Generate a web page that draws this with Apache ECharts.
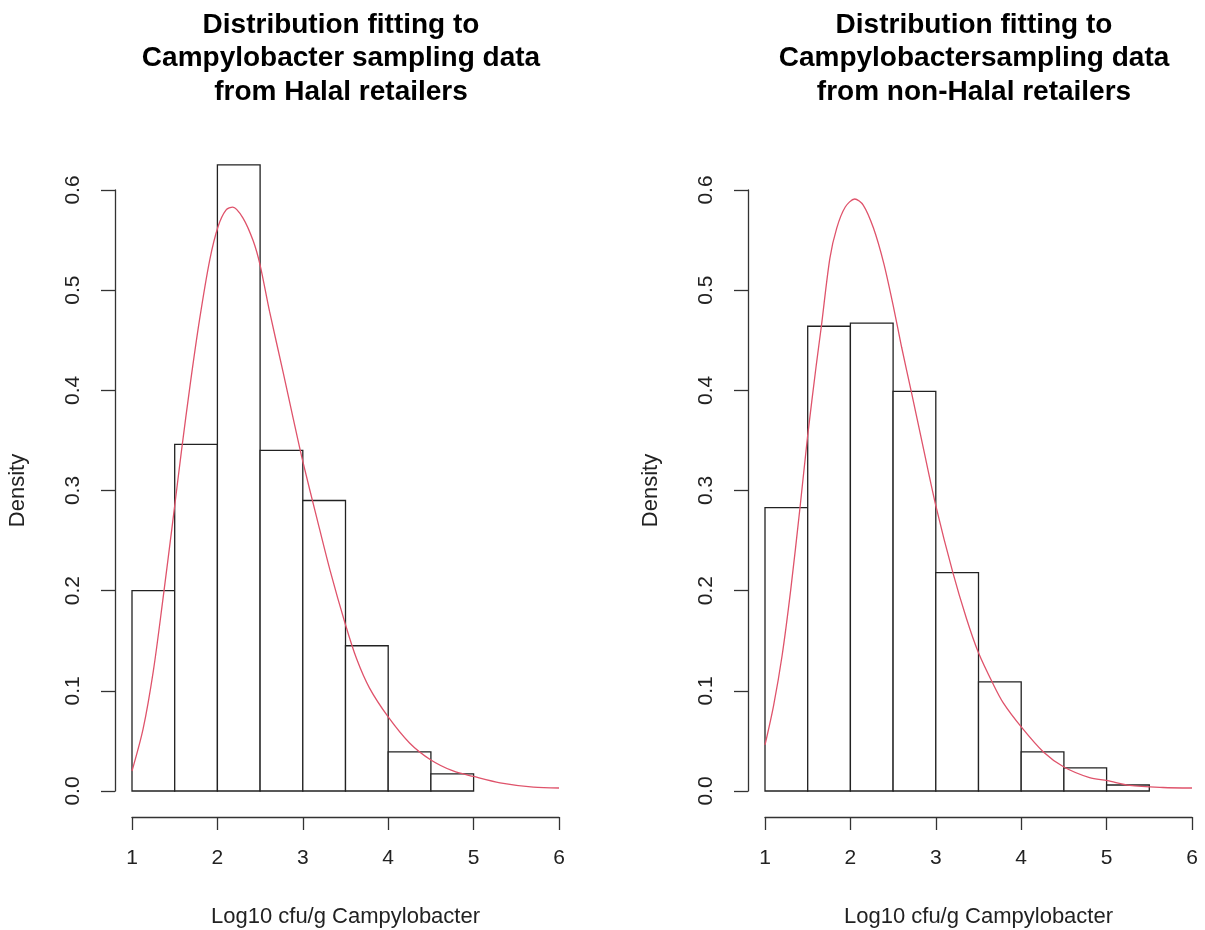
<!doctype html>
<html>
<head>
<meta charset="utf-8">
<title>Distribution fitting</title>
<style>
  html, body { margin: 0; padding: 0; background: #fff; }
  #main { width: 1205px; height: 930px; }
</style>
</head>
<body>
<div id="main"></div>
<script src="https://cdn.jsdelivr.net/npm/echarts@6/dist/echarts.min.js"></script>
<script>
// histogram breaks and densities (bin width 0.5)
var halalBreaks = [1, 1.5, 2, 2.5, 3, 3.5, 4, 4.5, 5];
var halalDensity = [0.200, 0.346, 0.625, 0.340, 0.290, 0.145, 0.039, 0.017];
var nonHalalBreaks = [1, 1.5, 2, 2.5, 3, 3.5, 4, 4.5, 5, 5.5];
var nonHalalDensity = [0.283, 0.464, 0.467, 0.399, 0.218, 0.109, 0.039, 0.023, 0.006];

// fitted density curves
var halalCurveX = [1.00, 1.13, 1.25, 1.36, 1.48, 1.58, 1.68, 1.79, 1.91, 2.01, 2.10, 2.18, 2.30, 2.42, 2.50, 2.61, 2.77, 2.89, 3.00, 3.16, 3.32, 3.50, 3.63, 3.78, 4.00, 4.25, 4.50, 4.76, 5.00, 5.31, 5.70, 6.00];
var halalCurveY = [0.020, 0.062, 0.120, 0.190, 0.271, 0.340, 0.405, 0.470, 0.530, 0.564, 0.580, 0.583, 0.572, 0.549, 0.525, 0.479, 0.418, 0.371, 0.329, 0.274, 0.220, 0.166, 0.132, 0.103, 0.074, 0.048, 0.031, 0.020, 0.0145, 0.0082, 0.0039, 0.003];
var nonHalalCurveX = [1.00, 1.10, 1.20, 1.30, 1.41, 1.50, 1.60, 1.66, 1.76, 1.84, 1.94, 2.05, 2.15, 2.27, 2.39, 2.50, 2.60, 2.72, 2.85, 3.00, 3.20, 3.36, 3.50, 3.67, 3.79, 4.01, 4.26, 4.50, 4.80, 5.01, 5.27, 5.66, 6.00];
var nonHalalCurveY = [0.046, 0.085, 0.135, 0.200, 0.283, 0.355, 0.425, 0.464, 0.532, 0.562, 0.583, 0.591, 0.585, 0.562, 0.527, 0.485, 0.443, 0.396, 0.344, 0.285, 0.218, 0.172, 0.138, 0.107, 0.088, 0.063, 0.039, 0.024, 0.0134, 0.0104, 0.0056, 0.0035, 0.003];

var yTicks = ['0.0', '0.1', '0.2', '0.3', '0.4', '0.5', '0.6'];

var halalTitle = ['Distribution fitting to', 'Campylobacter sampling data', 'from Halal retailers'];
var nonHalalTitle = ['Distribution fitting to', 'Campylobactersampling data', 'from non-Halal retailers'];

var font = '"Liberation Sans", Arial, sans-serif';
var axisColor = '#333';

function bins(breaks, dens) {
    var out = [];
    for (var i = 0; i < dens.length; i++) {
        out.push([breaks[i], breaks[i + 1], dens[i]]);
    }
    return out;
}

function pairs(xs, ys) {
    var out = [];
    for (var i = 0; i < xs.length; i++) out.push([xs[i], ys[i]]);
    return out;
}

function renderBin(params, api) {
    var p0 = api.coord([api.value(0), 0]);
    var p1 = api.coord([api.value(1), api.value(2)]);
    return {
        type: 'rect',
        shape: { x: p0[0], y: p1[1], width: p1[0] - p0[0], height: p0[1] - p1[1] },
        style: { fill: '#fff', stroke: '#222', lineWidth: 1.3 }
    };
}

function xAxisFor(idx) {
    return {
        gridIndex: idx, type: 'value', min: 1, max: 6, interval: 1,
        offset: 26,
        name: 'Log10 cfu/g Campylobacter', nameLocation: 'middle', nameGap: 89,
        nameTextStyle: { fontFamily: font, fontSize: 22, color: '#222' },
        axisLine: { show: true, onZero: false, lineStyle: { color: axisColor, width: 1.3 } },
        axisTick: { show: true, length: 13, lineStyle: { color: axisColor, width: 1.3 } },
        axisLabel: { margin: 31, fontFamily: font, fontSize: 21, color: '#222' },
        splitLine: { show: false }
    };
}

function yAxisFor(idx) {
    return {
        gridIndex: idx, type: 'value', min: 0, max: 0.6, interval: 0.1,
        offset: 17,
        name: 'Density', nameLocation: 'middle', nameGap: 86, nameRotate: 90,
        nameTextStyle: { fontFamily: font, fontSize: 22, color: '#222' },
        axisLine: { show: true, onZero: false, lineStyle: { color: axisColor, width: 1.3 } },
        axisTick: { show: true, length: 14, lineStyle: { color: axisColor, width: 1.3 } },
        axisLabel: {
            rotate: 90, margin: 31, fontFamily: font, fontSize: 21, color: '#222',
            formatter: function (v) { return yTicks[Math.round(v * 10)]; }
        },
        splitLine: { show: false }
    };
}

function titleTexts(lines, cx) {
    var out = [];
    for (var i = 0; i < lines.length; i++) {
        out.push({
            type: 'text', x: cx, y: 25 + i * 33.5,
            style: {
                text: lines[i], fill: '#000', font: 'bold 28px ' + font,
                textAlign: 'center', textVerticalAlign: 'middle'
            }
        });
    }
    return out;
}

var myChart = echarts.init(document.getElementById('main'), null, { renderer: 'canvas' });

var option = {
    backgroundColor: '#fff',
    animation: false,
    graphic: titleTexts(halalTitle, 341).concat(titleTexts(nonHalalTitle, 974)),
    grid: [
        { left: 132, top: 190, width: 427, height: 601, containLabel: false, outerBoundsMode: 'none' },
        { left: 765, top: 190, width: 427, height: 601, containLabel: false, outerBoundsMode: 'none' }
    ],
    xAxis: [xAxisFor(0), xAxisFor(1)],
    yAxis: [yAxisFor(0), yAxisFor(1)],
    series: [
        {
            type: 'custom', xAxisIndex: 0, yAxisIndex: 0, clip: false,
            renderItem: renderBin, encode: { x: [0, 1], y: 2 },
            data: bins(halalBreaks, halalDensity), z: 2
        },
        {
            type: 'line', xAxisIndex: 0, yAxisIndex: 0, showSymbol: false, smooth: 0.3,
            lineStyle: { color: '#DF536B', width: 1.3 },
            data: pairs(halalCurveX, halalCurveY), z: 3
        },
        {
            type: 'custom', xAxisIndex: 1, yAxisIndex: 1, clip: false,
            renderItem: renderBin, encode: { x: [0, 1], y: 2 },
            data: bins(nonHalalBreaks, nonHalalDensity), z: 2
        },
        {
            type: 'line', xAxisIndex: 1, yAxisIndex: 1, showSymbol: false, smooth: 0.3,
            lineStyle: { color: '#DF536B', width: 1.3 },
            data: pairs(nonHalalCurveX, nonHalalCurveY), z: 3
        }
    ]
};
myChart.setOption(option);
</script>
</body>
</html>
